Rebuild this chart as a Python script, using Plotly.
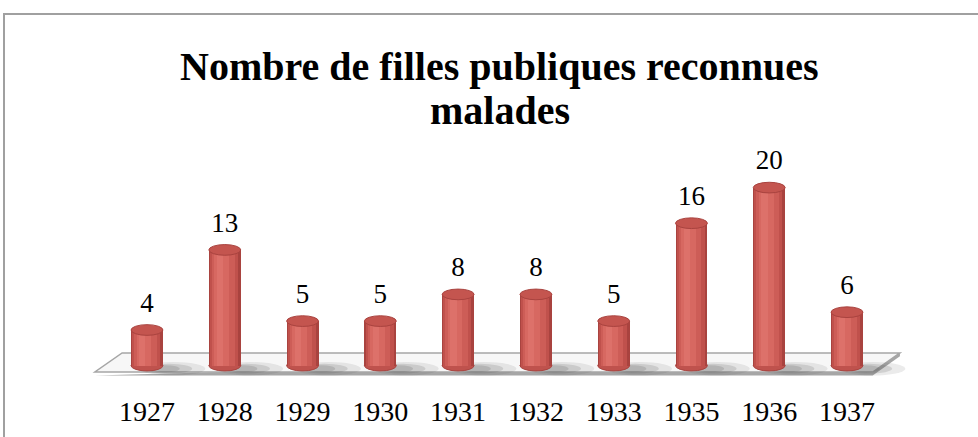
import plotly.graph_objects as go

# Données : nombre de filles publiques reconnues malades par année
years = ["1927", "1928", "1929", "1930", "1931", "1932", "1933", "1935", "1936", "1937"]
counts = [4, 13, 5, 5, 8, 8, 5, 16, 20, 6]

title_lines = ["Nombre de filles publiques reconnues", "malades"]

FONT = "Liberation Serif"
n = len(years)
xs = list(range(n))

BAR_W = 0.41      # largeur d'un cylindre (unités de catégorie)
CAP_H = 0.6       # demi-hauteur des ellipses (unités de valeur)

fig = go.Figure()

# Corps des cylindres : couches superposées pour simuler l'éclairage
layers = [
    (BAR_W, 0.0, "#a9433f"),
    (BAR_W - 0.05, -0.01, "#c0514c"),
    (BAR_W - 0.12, -0.02, "#cd5d57"),
    (BAR_W - 0.22, -0.04, "#d76861"),
    (0.08, -0.06, "#dd716a"),
]
for w, shift, col in layers:
    fig.add_trace(go.Bar(
        x=xs, y=counts, base=0, width=w,
        offset=shift - w / 2,
        marker=dict(color=col, line=dict(width=0)),
        hoverinfo="skip", showlegend=False,
    ))

# Étiquettes de valeur au-dessus des cylindres
fig.add_trace(go.Scatter(
    x=xs, y=[v + 2.8 for v in counts],
    text=[str(v) for v in counts],
    mode="text", textposition="middle center",
    textfont=dict(family=FONT, size=27, color="#000000"),
    cliponaxis=False, hoverinfo="skip", showlegend=False,
))

shapes = []

# Plancher en perspective
x_left, x_right = -0.67, n - 1 + 0.33
skew = 0.35
f_front, f_back, f_edge = -0.72, 1.42, -1.1
shapes.append(dict(
    type="path", xref="x", yref="y", layer="below",
    path=(f"M {x_left},{f_edge} L {x_right},{f_edge} L {x_right + skew},{f_back - (f_front - f_edge)} "
          f"L {x_right + skew},{f_back} Z"),
    fillcolor="#a6a6a6", line=dict(width=0),
))
shapes.append(dict(
    type="path", xref="x", yref="y", layer="below",
    path=(f"M {x_left},{f_front} L {x_right},{f_front} L {x_right + skew},{f_back} "
          f"L {x_left + skew},{f_back} Z"),
    fillcolor="#f7f7f7", line=dict(color="#a6a6a6", width=1.5),
))

# Ombres portées sur le plancher
for i in xs:
    for dx, rx, ry, a in [(0.33, 0.42, 0.75, 0.12), (0.28, 0.3, 0.55, 0.18), (0.24, 0.18, 0.4, 0.2)]:
        shapes.append(dict(
            type="circle", xref="x", yref="y", layer="below",
            x0=i + dx - rx, x1=i + dx + rx, y0=-0.35 - ry, y1=-0.35 + ry,
            fillcolor=f"rgba(90,90,90,{a})", line=dict(width=0),
        ))

# Bases et sommets elliptiques des cylindres
for i, v in zip(xs, counts):
    shapes.append(dict(
        type="circle", xref="x", yref="y", layer="below",
        x0=i - BAR_W / 2, x1=i + BAR_W / 2, y0=-CAP_H, y1=CAP_H,
        fillcolor="#bf524d", line=dict(color="#a9433f", width=1),
    ))
    shapes.append(dict(
        type="circle", xref="x", yref="y", layer="above",
        x0=i - BAR_W / 2, x1=i + BAR_W / 2, y0=v - CAP_H, y1=v + CAP_H,
        fillcolor="#c4554f", line=dict(color="#a9433f", width=1),
    ))

# Cadre du graphique
shapes.append(dict(
    type="rect", xref="paper", yref="paper", layer="above",
    x0=4 / 978, x1=1.05, y0=-0.3, y1=(392 - 14) / 392,
    fillcolor="rgba(0,0,0,0)", line=dict(color="#a0a0a0", width=2),
))

# Titre sur deux lignes
annotations = []
for line, ypix in zip(title_lines, [66, 110]):
    annotations.append(dict(
        text=f"<b>{line}</b>", xref="paper", yref="paper",
        x=0.511, y=(392 - ypix) / 392, xanchor="center", yanchor="middle",
        showarrow=False,
        font=dict(family=FONT, size=40, color="#000000"),
    ))

fig.update_layout(
    width=978, height=437,
    margin=dict(l=0, r=0, t=0, b=45),
    paper_bgcolor="#ffffff", plot_bgcolor="rgba(0,0,0,0)",
    barmode="overlay", bargap=0,
    shapes=shapes,
    annotations=annotations,
    xaxis=dict(
        range=[-1.89, 10.684], tickvals=xs, ticktext=years,
        showgrid=False, zeroline=False, showline=False, ticks="",
        tickfont=dict(family=FONT, size=28, color="#000000"),
        fixedrange=True,
    ),
    yaxis=dict(range=[-2.966, 41.08], visible=False, fixedrange=True),
    showlegend=False,
)

fig.write_html("out.html")
